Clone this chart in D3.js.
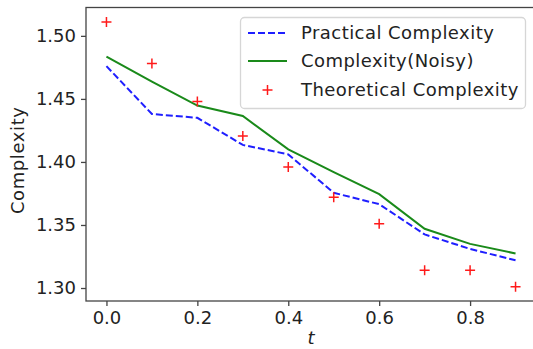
<!DOCTYPE html>
<html>
<head>
<meta charset="utf-8">
<script src="https://cdn.jsdelivr.net/npm/d3@7"></script>
<style>
  body { margin: 0; background: #fff; }
  text { font-family: "DejaVu Sans", sans-serif; fill: #222; }
</style>
</head>
<body>
<script>
const width = 533, height = 349;

// values
const tValues = [0.0, 0.1, 0.2, 0.3, 0.4, 0.5, 0.6, 0.7, 0.8, 0.9];
const practical = [1.476, 1.438, 1.435, 1.4135, 1.406, 1.3755, 1.3665, 1.3425, 1.331, 1.322];
const noisy = [1.4836, 1.4637, 1.4447, 1.4364, 1.410, 1.392, 1.3745, 1.347, 1.335, 1.3274];
const theoretical = [1.511, 1.478, 1.448, 1.4206, 1.396, 1.372, 1.351, 1.314, 1.314, 1.301];
const xTicks = [0.0, 0.2, 0.4, 0.6, 0.8];
const yTicks = [1.30, 1.35, 1.40, 1.45, 1.50];
const legendLabels = ["Practical Complexity", "Complexity(Noisy)", "Theoretical Complexity"];

const margin = {left: 86, top: 7.5, right: -3, bottom: 48};

const x = d3.scaleLinear()
  .domain([-0.045, 0.945])
  .range([margin.left, width - margin.right]);
const y = d3.scaleLinear()
  .domain([1.2897, 1.5225])
  .range([height - margin.bottom, margin.top]);

const svg = d3.select("body").append("svg")
  .attr("width", width)
  .attr("height", height);

// spines
svg.append("rect")
  .attr("x", x.range()[0])
  .attr("y", y.range()[1])
  .attr("width", x.range()[1] - x.range()[0])
  .attr("height", y.range()[0] - y.range()[1])
  .attr("fill", "none")
  .attr("stroke", "#444")
  .attr("stroke-width", 1.3);

// axes
const xAxis = svg.append("g")
  .attr("transform", `translate(0,${y.range()[0]})`)
  .call(d3.axisBottom(x).tickValues(xTicks).tickFormat(d3.format(".1f")).tickSize(5).tickPadding(5));
const yAxis = svg.append("g")
  .attr("transform", `translate(${x.range()[0]},0)`)
  .call(d3.axisLeft(y).tickValues(yTicks).tickFormat(d3.format(".2f")).tickSize(5).tickPadding(5));

[xAxis, yAxis].forEach(g => {
  g.select(".domain").remove();
  g.selectAll(".tick line").attr("stroke", "#444").attr("stroke-width", 1.3);
  g.selectAll(".tick text")
    .attr("font-size", 18)
    .attr("font-family", "DejaVu Sans, sans-serif")
    .attr("fill", "#222");
});

// axis labels
svg.append("text")
  .attr("x", x(0.45))
  .attr("y", 344)
  .attr("text-anchor", "middle")
  .attr("font-size", 18)
  .attr("font-style", "italic")
  .text("t");
svg.append("text")
  .attr("transform", `translate(24,${(y.range()[0] + y.range()[1]) / 2 + 6}) rotate(-90)`)
  .attr("text-anchor", "middle")
  .attr("font-size", 18)
  .attr("letter-spacing", 0.6)
  .text("Complexity");

const line = d3.line()
  .x((d, i) => x(tValues[i]))
  .y(d => y(d));

svg.append("path")
  .datum(noisy)
  .attr("d", line)
  .attr("fill", "none")
  .attr("stroke", "#1a8a1a")
  .attr("stroke-width", 2);

svg.append("path")
  .datum(practical)
  .attr("d", line)
  .attr("fill", "none")
  .attr("stroke", "#1f1fff")
  .attr("stroke-width", 2)
  .attr("stroke-dasharray", "7,3");

function drawPlus(g, cx, cy) {
  const s = 5;
  g.append("path")
    .attr("d", `M${cx - s},${cy}H${cx + s}M${cx},${cy - s}V${cy + s}`)
    .attr("stroke", "#ff1a1a")
    .attr("stroke-width", 1.5)
    .attr("fill", "none");
}
const markers = svg.append("g");
theoretical.forEach((v, i) => drawPlus(markers, x(tValues[i]), y(v)));

// legend
const legend = svg.append("g");
legend.append("rect")
  .attr("x", 240.5)
  .attr("y", 17.5)
  .attr("width", 285)
  .attr("height", 91)
  .attr("rx", 4)
  .attr("fill", "#fff")
  .attr("fill-opacity", 0.8)
  .attr("stroke", "#d6d6d6")
  .attr("stroke-width", 1.3);

const rowY = [33, 61, 90];
legend.append("line")
  .attr("x1", 248).attr("x2", 287).attr("y1", rowY[0]).attr("y2", rowY[0])
  .attr("stroke", "#1f1fff").attr("stroke-width", 2).attr("stroke-dasharray", "7,3");
legend.append("line")
  .attr("x1", 248).attr("x2", 287).attr("y1", rowY[1]).attr("y2", rowY[1])
  .attr("stroke", "#1a8a1a").attr("stroke-width", 2);
drawPlus(legend, 267.5, rowY[2]);

legendLabels.forEach((lab, i) => {
  legend.append("text")
    .attr("x", 301)
    .attr("y", rowY[i])
    .attr("dy", "0.36em")
    .attr("font-size", 18)
    .attr("letter-spacing", 0.45)
    .text(lab);
});
</script>
</body>
</html>
